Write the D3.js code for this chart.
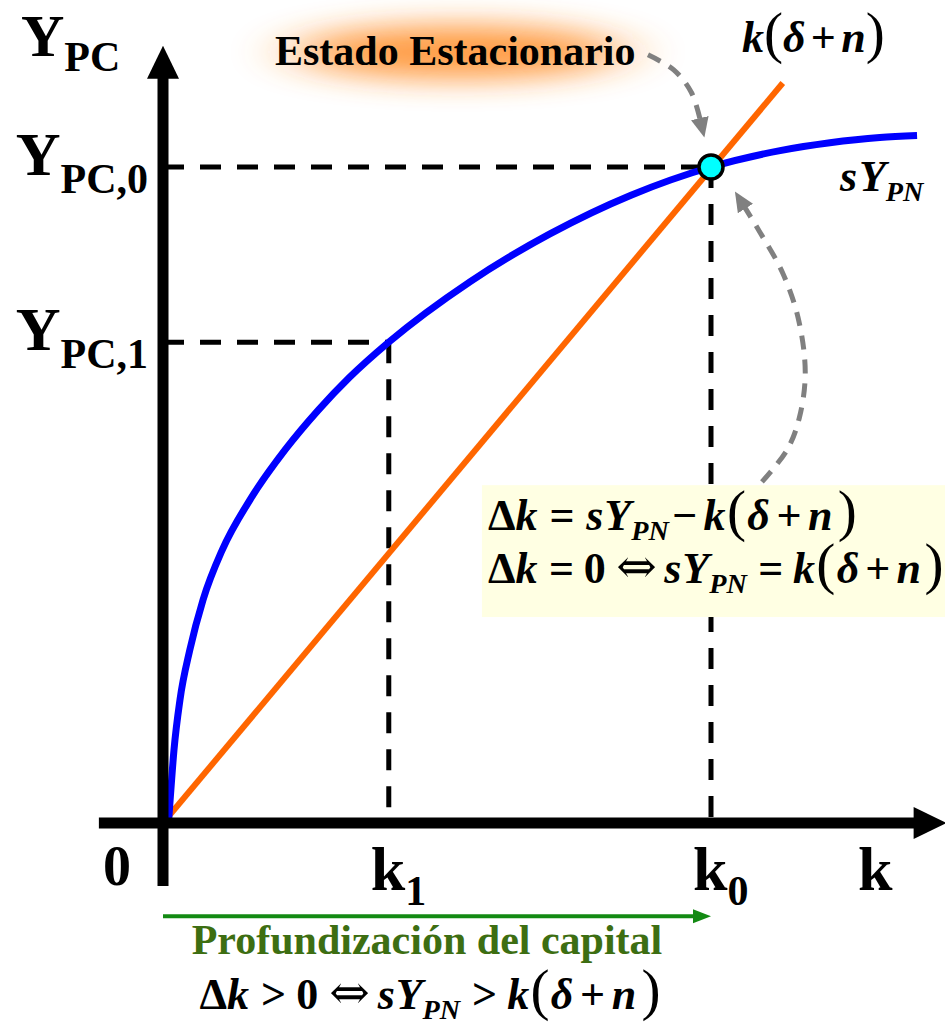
<!DOCTYPE html>
<html>
<head>
<meta charset="utf-8">
<script src="https://cdn.jsdelivr.net/npm/d3@7"></script>
<style>
  html, body { margin: 0; padding: 0; background: #fff; }
  svg { display: block; }
</style>
</head>
<body>
<div id="graphic"></div>
<script>
// values (k = capital per worker, Y = output per worker)
const savingCurve = [
	[0.1, 0], [0.13, 0.35], [0.2, 1.11], [0.31, 1.88], [0.49, 2.64], [0.73, 3.40],
	[1.08, 4.16], [1.59, 4.93], [2.23, 5.69], [2.83, 6.29], [3.40, 6.79], [4.12, 7.33],
	[5.60, 8.25], [7.06, 8.98], [8.54, 9.57], [10, 10], [11.26, 10.25], [12.17, 10.37],
	[13.08, 10.45], [13.76, 10.48]
];
const depreciationLine = [[0, 0], [11.31, 11.28]];
const steadyK = 10, steadyY = 10;
const k1 = 4.12, y1 = 7.33;
const yTickLabels = [["PC,0", steadyY], ["PC,1", y1]];
const xTickLabels = [["1", k1], ["0", steadyK]];
const kAxisExtent = [-1.17, 14.3];
const yAxisExtent = [-0.96, 11.85];
const deepeningY = -1.42;
const formulaBox = [[5.82, 5.15], [14.3, 3.14]];
const arrowToSteady = [[8.85, 11.71], [9.32, 11.48], [9.64, 11.14], [9.80, 10.73]];
const arrowFromBox = [[10.93, 5.20], [11.39, 5.69], [11.61, 6.17], [11.72, 6.86], [11.59, 7.70],
	[11.30, 8.40], [10.89, 9.01], [10.62, 9.38]];

const SERIF = '"Liberation Serif", "Times New Roman", serif';
const width = 945, height = 1025;

const x = d3.scaleLinear().domain([0, 10]).range([163, 711]);
const y = d3.scaleLinear().domain([0, 10]).range([823, 167]);

const svg = d3.select('#graphic').append('svg')
	.attr('width', width).attr('height', height)
	.attr('viewBox', `0 0 ${width} ${height}`);

const defs = svg.append('defs');
defs.append('filter').attr('id', 'glow')
	.attr('x', '-60%').attr('y', '-150%').attr('width', '220%').attr('height', '400%')
	.append('feGaussianBlur').attr('stdDeviation', '32 15');
defs.append('marker').attr('id', 'grayHead')
	.attr('markerUnits', 'userSpaceOnUse').attr('viewBox', '0 0 20 18')
	.attr('refX', 1).attr('refY', 9).attr('markerWidth', 20).attr('markerHeight', 18)
	.attr('orient', 'auto')
	.append('path').attr('d', 'M0,0 L20,9 L0,18 Z').attr('fill', '#808080');

// orange glow behind "Estado Estacionario"
svg.append('ellipse')
	.attr('cx', 458).attr('cy', 52).attr('rx', 165).attr('ry', 27)
	.attr('fill', '#ff8a22').attr('opacity', 0.85)
	.attr('filter', 'url(#glow)');

// math-ish text helper: tokens of [text, kind, gap(em)]
function mathText(parent, px, py, size, tokens, anchor) {
	const t = parent.append('text')
		.attr('x', px).attr('y', py)
		.attr('text-anchor', anchor || 'start')
		.attr('font-family', SERIF).attr('font-weight', 'bold')
		.attr('font-size', size).attr('fill', '#000');
	let shift = 0;
	tokens.forEach(([str, kind, gap]) => {
		const ts = t.append('tspan').text(str);
		let fs = size, target = 0;
		if (kind === 'i') ts.attr('font-style', 'italic');
		if (kind === 'sub') { fs = size * 0.64; target = size * 0.22; ts.attr('font-style', 'italic'); }
		if (kind === 'p') { fs = size * 1.3; ts.attr('font-weight', 'normal'); }
		if (kind === 'a') { fs = size * 1.1; ts.attr('font-family', '"DejaVu Serif", serif').attr('font-weight', 'normal'); }
		ts.attr('font-size', fs);
		const dy = target - shift;
		shift = target;
		if (dy) ts.attr('dy', dy);
		if (gap) ts.attr('dx', gap * size);
	});
	return t;
}

// dashed guides
const guide = svg.append('g')
	.attr('stroke', '#000').attr('stroke-width', 5)
	.attr('stroke-dasharray', '21,16').attr('fill', 'none');
[[steadyK, steadyY], [k1, y1]].forEach(([kv, yv]) => {
	guide.append('line')
		.attr('x1', x(0)).attr('y1', y(yv)).attr('x2', x(kv)).attr('y2', y(yv));
	guide.append('line')
		.attr('x1', x(kv)).attr('y1', y(yv)).attr('x2', x(kv)).attr('y2', y(0));
});

// k(δ+n) line and sY curve
svg.append('path')
	.datum(depreciationLine)
	.attr('fill', 'none').attr('stroke', '#ff6600').attr('stroke-width', 6)
	.attr('d', d3.line().x(d => x(d[0])).y(d => y(d[1])));

svg.append('path')
	.datum(savingCurve)
	.attr('fill', 'none').attr('stroke', '#0000ff').attr('stroke-width', 7)
	.attr('d', d3.line().x(d => x(d[0])).y(d => y(d[1])).curve(d3.curveMonotoneX));

// axes
const axisG = svg.append('g').attr('fill', '#000');
const yTip = y(yAxisExtent[1]), kTip = x(kAxisExtent[1]);
axisG.append('line')
	.attr('x1', x(0)).attr('x2', x(0))
	.attr('y1', y(yAxisExtent[0])).attr('y2', yTip + 30)
	.attr('stroke', '#000').attr('stroke-width', 11);
axisG.append('path')
	.attr('d', `M${x(0)},${yTip} L${x(0) - 16},${yTip + 33} L${x(0) + 16},${yTip + 33} Z`);
axisG.append('line')
	.attr('x1', x(kAxisExtent[0])).attr('x2', kTip - 30)
	.attr('y1', y(0)).attr('y2', y(0))
	.attr('stroke', '#000').attr('stroke-width', 11);
axisG.append('path')
	.attr('d', `M${kTip},${y(0)} L${kTip - 33},${y(0) - 16} L${kTip - 33},${y(0) + 16} Z`);

// formula box
svg.append('rect')
	.attr('x', x(formulaBox[0][0])).attr('y', y(formulaBox[0][1]))
	.attr('width', x(formulaBox[1][0]) - x(formulaBox[0][0]))
	.attr('height', y(formulaBox[1][1]) - y(formulaBox[0][1]))
	.attr('fill', '#ffffe3');

mathText(svg, x(formulaBox[0][0]) + 6, 530, 44, [
	['Δ', 'r'], ['k', 'i'], ['=', 'r', 0.27], ['s', 'i', 0.27], ['Y', 'i', 0.02], ['PN', 'sub'],
	['−', 'r', 0.07], ['k', 'i', 0.15], ['(', 'p', 0.03], ['δ', 'i', 0.03], ['+', 'r', 0.15],
	['n', 'i', 0.15], [')', 'p', 0.12]
]);
mathText(svg, x(formulaBox[0][0]) + 6, 583, 44, [
	['Δ', 'r'], ['k', 'i'], ['=', 'r', 0.26], ['0', 'r', 0.22], ['⇔', 'a', 0.24], ['s', 'i', 0.17],
	['Y', 'i', 0.02], ['PN', 'sub'], ['=', 'r', 0.26], ['k', 'i', 0.22], ['(', 'p', 0.03], ['δ', 'i', 0.03],
	['+', 'r', 0.14], ['n', 'i', 0.14], [')', 'p', 0.08]
]);

// gray dashed arrows
const arrowLine = d3.line().x(d => x(d[0])).y(d => y(d[1])).curve(d3.curveCatmullRom);
[arrowToSteady, arrowFromBox].forEach(pts => {
	svg.append('path')
		.datum(pts)
		.attr('fill', 'none').attr('stroke', '#808080').attr('stroke-width', 5)
		.attr('stroke-dasharray', '14,10')
		.attr('marker-end', 'url(#grayHead)')
		.attr('d', arrowLine);
});

// steady state point
svg.append('circle')
	.attr('cx', x(steadyK)).attr('cy', y(steadyY)).attr('r', 12)
	.attr('fill', '#00ffff').attr('stroke', '#000').attr('stroke-width', 3.5);

// capital deepening arrow
const greenY = y(deepeningY);
svg.append('line')
	.attr('x1', x(0)).attr('x2', x(steadyK) - 16)
	.attr('y1', greenY).attr('y2', greenY)
	.attr('stroke', '#138a13').attr('stroke-width', 4);
svg.append('path')
	.attr('d', `M${x(steadyK)},${greenY} L${x(steadyK) - 18},${greenY - 7} L${x(steadyK) - 18},${greenY + 7} Z`)
	.attr('fill', '#138a13');

// axis labels
const label = (px, py, size, anchor) => svg.append('text')
	.attr('x', px).attr('y', py).attr('text-anchor', anchor || 'start')
	.attr('font-family', SERIF).attr('font-weight', 'bold').attr('font-size', size);

const yTitle = label(21, 56, 60);
yTitle.append('tspan').text('Y');
yTitle.append('tspan').attr('font-size', 42).attr('dy', 15).text('PC');

yTickLabels.forEach(([sub, v]) => {
	const t = label(148, y(v) + 8, 62, 'end');
	t.append('tspan').text('Y');
	t.append('tspan').attr('font-size', 42).attr('dy', 18).text(sub);
});

label(x(0) - 60, 885, 56).text('0');
xTickLabels.forEach(([sub, v]) => {
	const t = label(x(v) - 18, 890, 62);
	t.append('tspan').text('k');
	t.append('tspan').attr('font-size', 42).attr('dy', 15).text(sub);
});
label(858, 890, 62).text('k');

label(275, 65, 42).text('Estado Estacionario');

mathText(svg, 742, 52, 44, [
	['k', 'i'], ['(', 'p'], ['δ', 'i'], ['+', 'r', 0.12], ['n', 'i', 0.12], [')', 'p']
]);
mathText(svg, 840, 191, 44, [['s', 'i'], ['Y', 'i', 0.04], ['PN', 'sub']]);

label(427, 954, 42, 'middle').attr('fill', '#3d6e12').text('Profundización del capital');

mathText(svg, 430, 1009, 44, [
	['Δ', 'r'], ['k', 'i'], ['>', 'r', 0.27], ['0', 'r', 0.23], ['⇔', 'a', 0.25], ['s', 'i', 0.18],
	['Y', 'i', 0.02], ['PN', 'sub'], ['>', 'r', 0.27], ['k', 'i', 0.23], ['(', 'p', 0.03], ['δ', 'i', 0.03],
	['+', 'r', 0.15], ['n', 'i', 0.15], [')', 'p', 0.12]
], 'middle');
</script>
</body>
</html>
